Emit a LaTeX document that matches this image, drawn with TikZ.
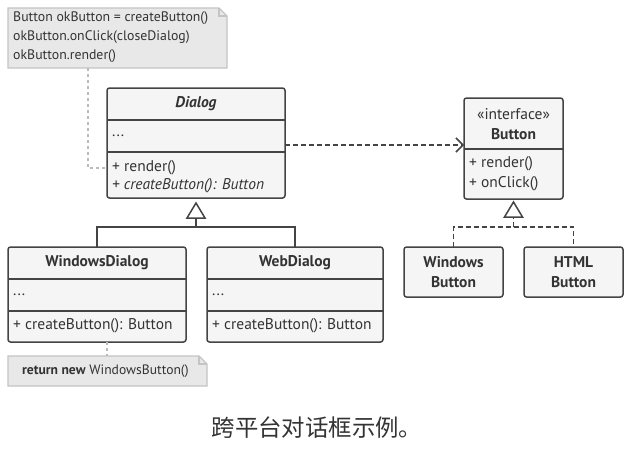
\documentclass[tikz,border=0pt]{standalone}
\usepackage{fontspec}
\setmainfont{PT Sans}
\newfontfamily\cjk{Noto Sans CJK SC}
\usetikzlibrary{arrows.meta,calc}
\definecolor{boxfill}{HTML}{F5F5F5}
\definecolor{boxline}{HTML}{444444}
\definecolor{notefill}{HTML}{E8E8E8}
\definecolor{noteline}{HTML}{C4C4C4}
\definecolor{txt}{HTML}{333333}
\definecolor{notelink}{HTML}{BBBBBB}
\begin{document}
\begin{tikzpicture}[x=1pt,y=-1pt,
  umlbox/.style={draw=boxline, fill=boxfill, line width=1.5pt, rounded corners=2.5pt, anchor=north west, inner sep=0pt, outer sep=0pt},
  sepline/.style={draw=boxline, line width=1.5pt},
  ttl/.style={font=\fontsize{15.5}{20}\selectfont\bfseries, text=txt, inner sep=0pt, align=center},
  mem/.style={font=\fontsize{15.5}{17}\selectfont, text=txt, anchor=west, inner sep=0pt},
  notebox/.style={draw=noteline, fill=notefill, line width=1.2pt, line join=miter},
  notetxt/.style={text=txt, anchor=west, inner sep=0pt, align=left},
  notelinkst/.style={draw=notelink, line width=1.2pt, dash pattern=on 3pt off 3pt},
  inherit/.style={draw=boxline, line width=1.5pt},
  realize/.style={draw=boxline, line width=1.5pt, dash pattern=on 5pt off 3pt},
  tri/.style={draw=boxline, fill=white, line width=1.5pt, line join=miter}
]
\useasboundingbox[fill=white] (0,0) rectangle (631,451);

% ---------- Note 1 ----------
\draw[notebox] (8,8) -- (219,8) -- (227,16) -- (227,68) -- (8,68) -- cycle;
\draw[notebox, fill=none] (219,8) -- (219,16) -- (227,16);
\node[notetxt, font=\fontsize{13.8}{19}\selectfont] (note1) at (13,37.5)
  {Button okButton = createButton()\\okButton.onClick(closeDialog)\\okButton.render()};
\coordinate (n1c) at (88,68);

% ---------- Dialog ----------
\node[umlbox, minimum width=178pt, minimum height=110pt] (dialog) at (107,88) {};
\draw[sepline] (107,120) -- (285,120);
\draw[sepline] (107,152) -- (285,152);
\node[ttl, font=\fontsize{15.5}{20}\selectfont\bfseries\itshape] (dialogT) at (196,104) {Dialog};
\node[mem] (dialogA) at (112,136) {...};
\node[mem] (dialogM1) at (112,168) {+ render()};
\node[mem, font=\fontsize{15.5}{17}\selectfont\itshape] (dialogM2) at (112,186) {+ createButton(): Button};

% ---------- WindowsDialog ----------
\node[umlbox, minimum width=178pt, minimum height=95pt] (wind) at (8,247) {};
\draw[sepline] (8,279) -- (186,279);
\draw[sepline] (8,311) -- (186,311);
\node[ttl] (windT) at (97,263) {WindowsDialog};
\node[mem] (windA) at (13,295) {...};
\node[mem] (windM) at (13,326) {+ createButton(): Button};

% ---------- WebDialog ----------
\node[umlbox, minimum width=176pt, minimum height=95pt] (webd) at (207,247) {};
\draw[sepline] (207,279) -- (383,279);
\draw[sepline] (207,311) -- (383,311);
\node[ttl] (webdT) at (295,263) {WebDialog};
\node[mem] (webdA) at (212,295) {...};
\node[mem] (webdM) at (212,326) {+ createButton(): Button};

% ---------- Note 2 ----------
\draw[notebox] (8,356) -- (199,356) -- (207,364) -- (207,386) -- (8,386) -- cycle;
\draw[notebox, fill=none] (199,356) -- (199,364) -- (207,364);
\node[notetxt, font=\fontsize{13.6}{15}\selectfont] (note2) at (22,371.5)
  {\textbf{return new} WindowsButton()};
\coordinate (n2c) at (107,356);

% ---------- Button interface ----------
\node[umlbox, minimum width=99pt, minimum height=101pt] (button) at (464,98) {};
\draw[sepline] (464,149) -- (563,149);
\node[ttl, font=\fontsize{15.5}{20}\selectfont] (buttonS) at (513.5,114) {«interface»};
\node[ttl] (buttonT) at (513.5,134) {Button};
\node[mem] (buttonM1) at (469,164) {+ render()};
\node[mem] (buttonM2) at (469,184) {+ onClick()};

% ---------- Concrete buttons ----------
\node[umlbox, minimum width=99pt, minimum height=50pt] (winb) at (404,247) {};
\node[ttl] (winbT) at (453.5,272) {Windows\\Button};
\node[umlbox, minimum width=99pt, minimum height=50pt] (htmlb) at (524,247) {};
\node[ttl] (htmlbT) at (573.5,272) {HTML\\Button};

% ---------- Connectors ----------
% note links
\draw[notelinkst] (n1c) |- (dialog.west |- 0,168);
\draw[notelinkst] (wind.south -| n2c) -- (n2c);

% Dialog inheritance
\coordinate (dtri) at (196,203);
\draw[inherit] (wind.north -| 97,0) |- (196,227) -| (webd.north -| 295,0);
\draw[inherit] (196,227) -- (196,218);
\draw[tri] (dtri) -- (205,218) -- (187,218) -- cycle;

% Button realization
\coordinate (btri) at (513.5,202);
\draw[realize] (winb.north) |- (513.5,227) -| (htmlb.north);
\draw[realize] (513.5,227) -- (513.5,217);
\draw[tri, dash pattern=] (btri) -- (522.5,217) -- (504.5,217) -- cycle;

% dependency
\draw[realize, -{Straight Barb[length=7pt, width=14pt, line width=1.5pt]}]
  (dialog.east |- 0,145) -- (button.west |- 0,145);

% ---------- Caption ----------
\node[font=\cjk\fontsize{23.4}{26}\selectfont, text=txt, inner sep=0pt] (caption) at (317,428) {跨平台对话框示例。};
\end{tikzpicture}
\end{document}
